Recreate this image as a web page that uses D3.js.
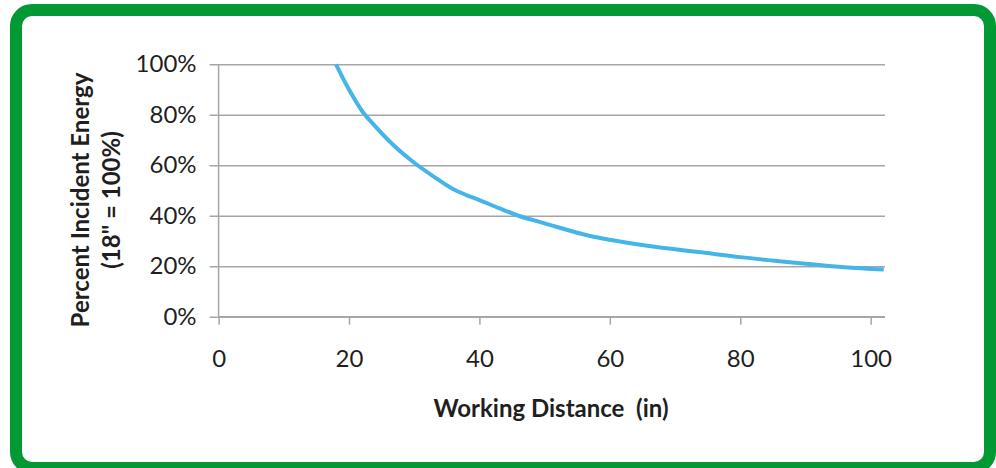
<!DOCTYPE html>
<html>
<head>
<meta charset="utf-8">
<script src="https://cdn.jsdelivr.net/npm/d3@7"></script>
<style>
  html, body { margin: 0; padding: 0; background: #ffffff; }
  svg { display: block; }
  text { font-family: Lato, "Open Sans", sans-serif; }
</style>
</head>
<body>
<svg id="chart" width="996" height="468"></svg>
<script>
// ---- Data ----
const distance = [18, 20, 22, 24, 27, 30, 33, 36, 38, 40, 43, 46, 50, 57, 60, 66, 70, 74, 80, 86, 90, 96, 102];
const percentEnergy = [1.00, 0.90, 0.815, 0.755, 0.675, 0.61, 0.555, 0.505, 0.482, 0.462, 0.43, 0.40, 0.37, 0.32, 0.305, 0.28, 0.267, 0.255, 0.236, 0.22, 0.21, 0.196, 0.187];
const xTicks = [0, 20, 40, 60, 80, 100];
const yTicks = [0, 0.2, 0.4, 0.6, 0.8, 1.0];
const xTitle = "Working Distance  (in)";
const yTitleLines = ["Percent Incident Energy", "(18\" = 100%)"];

const svg = d3.select("#chart");

// frame
svg.append("rect")
  .attr("x", 16).attr("y", 10)
  .attr("width", 974).attr("height", 458)
  .attr("rx", 16).attr("ry", 16)
  .attr("fill", "#ffffff")
  .attr("stroke", "#009933")
  .attr("stroke-width", 12);

const plot = { left: 218.6, right: 885, top: 64.3, bottom: 316.7 };

const x = d3.scaleLinear().domain([0, 102.2]).range([plot.left, plot.right]);
const y = d3.scaleLinear().domain([0, 1]).range([plot.bottom, plot.top]);

const gridColor = "#a6a6a6";
const textColor = "#1f1f1f";

// horizontal gridlines + y axis (ticks extend left of axis)
const yAxis = d3.axisLeft(y)
  .tickValues(yTicks)
  .tickFormat(d3.format(".0%"))
  .tickSize(plot.right - plot.left + 9)
  .tickSizeOuter(0)
  .tickPadding(14);

const gy = svg.append("g")
  .attr("transform", `translate(${plot.right},0)`)
  .call(yAxis);
gy.select(".domain").remove();
gy.selectAll(".tick line").attr("stroke", gridColor).attr("stroke-width", 1.5);
gy.selectAll(".tick text")
  .attr("x", -(plot.right - plot.left) - 22)
  .attr("fill", textColor)
  .style("font-size", "24px")
  .style("font-family", "Lato, 'Open Sans', sans-serif");

// vertical axis line
svg.append("line")
  .attr("x1", plot.left).attr("x2", plot.left)
  .attr("y1", plot.top).attr("y2", plot.bottom)
  .attr("stroke", gridColor).attr("stroke-width", 1.5);

// x axis
const xAxis = d3.axisBottom(x)
  .tickValues(xTicks)
  .tickFormat(d3.format("d"))
  .tickSize(8)
  .tickSizeOuter(0)
  .tickPadding(25);

const gx = svg.append("g")
  .attr("transform", `translate(0,${plot.bottom})`)
  .call(xAxis);
gx.select(".domain").attr("stroke", gridColor).attr("stroke-width", 1.5)
  .attr("d", `M${plot.left},0H${plot.right}`);
gx.selectAll(".tick line").attr("stroke", gridColor).attr("stroke-width", 1.5);
gx.selectAll(".tick text")
  .attr("fill", textColor)
  .style("font-size", "24px")
  .style("font-family", "Lato, 'Open Sans', sans-serif");

// curve
const line = d3.line()
  .x((d, i) => x(distance[i]))
  .y((d, i) => y(percentEnergy[i]))
  .curve(d3.curveMonotoneX);

svg.append("path")
  .datum(percentEnergy)
  .attr("d", line)
  .attr("fill", "none")
  .attr("stroke", "#45b5e8")
  .attr("stroke-width", 4)
  .attr("stroke-linejoin", "round");

// x title
svg.append("text")
  .attr("x", 551).attr("y", 417)
  .attr("text-anchor", "middle")
  .attr("fill", textColor)
  .attr("xml:space", "preserve")
  .style("white-space", "pre")
  .style("font-size", "24px")
  .style("font-weight", "bold")
  .text(xTitle);

// y title (two lines, rotated)
const yt = svg.append("text")
  .attr("transform", "translate(0,200) rotate(-90)")
  .attr("text-anchor", "middle")
  .attr("fill", textColor)
  .style("font-size", "24px")
  .style("font-weight", "bold");
yt.selectAll("tspan")
  .data(yTitleLines)
  .join("tspan")
  .attr("x", 0)
  .attr("y", (d, i) => i === 0 ? 89 : 120)
  .text(d => d);
</script>
</body>
</html>
